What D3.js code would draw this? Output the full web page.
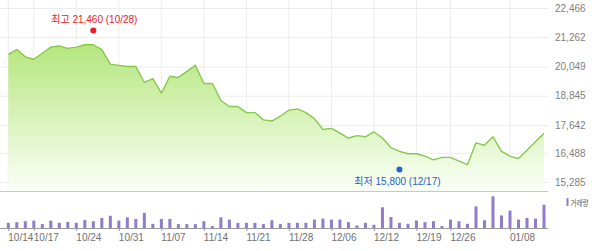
<!DOCTYPE html>
<html>
<head>
<meta charset="utf-8">
<script src="https://cdn.jsdelivr.net/npm/d3@7"></script>
<style>
  body { margin: 0; background: #fff; }
  svg { display: block; font-family: "Liberation Sans", "Noto Sans CJK KR", sans-serif; }
</style>
</head>
<body>
<svg id="chart"></svg>
<script>
// closing prices, one per trading day (10/14 .. 01/14)
const prices = [
  20550, 20750, 20450, 20350, 20600, 20850, 20900, 20800, 20850, 20950,
  20950, 20750, 20150, 20100, 20050, 20050, 19400, 19550, 18950, 19650,
  19600, 19850, 20100, 19350, 19350, 18650, 18400, 18400, 18150, 18150,
  17850, 17800, 18000, 18250, 18300, 18150, 17900, 17450, 17500, 17300,
  17100, 17200, 17150, 17350, 17100, 16700, 16550, 16450, 16450, 16350,
  16200, 16300, 16300, 16150, 16000, 16900, 16800, 17150, 16550, 16350,
  16250, 16600, 16950, 17300
];
// volume (thousand shares)
const volumes = [
  160, 180, 210, 230, 120, 230, 160, 190, 160, 250,
  210, 310, 380, 230, 330, 280, 470, 130, 280, 280,
  120, 120, 120, 210, 60, 330, 260, 160, 160, 160,
  120, 240, 120, 160, 160, 160, 260, 290, 260, 260,
  180, 80, 160, 100, 640, 340, 160, 130, 230, 180,
  210, 60, 260, 210, 130, 670, 240, 980, 390, 540,
  260, 310, 290, 720
];
const tickIdx = [0, 3, 8, 13, 18, 23, 28, 33, 38, 43, 48, 52, 59];
const tickLabels = ["10/14", "10/17", "10/24", "10/31", "11/07", "11/14", "11/21",
  "11/28", "12/06", "12/12", "12/19", "12/26", "01/08"];
const priceTicks = [22466, 21262, 20049, 18845, 17642, 16488, 15285];
const high = { idx: 10, value: 21460, label: "최고 21,460 (10/28)" };
const low = { idx: 46, value: 15800, label: "최저 15,800 (12/17)" };

const width = 600, height = 251;
const plotRight = 548, mainBottom = 191, volBase = 228;

const svg = d3.select("#chart")
    .attr("width", width)
    .attr("height", height)
    .attr("viewBox", [0, 0, width, height]);

const x = d3.scaleLinear([0, prices.length - 1], [8.3, 544]);
const y = d3.scaleLinear([15285, 22466], [182, 8]);
const yVol = d3.scaleLinear([0, 1000], [volBase, volBase - 32.3]);

const defs = svg.append("defs");
const grad = defs.append("linearGradient")
    .attr("id", "areaFill")
    .attr("gradientUnits", "userSpaceOnUse")
    .attr("x1", 0).attr("x2", 0)
    .attr("y1", 40).attr("y2", mainBottom);
grad.append("stop").attr("offset", 0).attr("stop-color", "#b3e67a");
grad.append("stop").attr("offset", 1).attr("stop-color", "#fbfff7");

// horizontal grid + right labels
svg.append("g")
    .attr("transform", `translate(${plotRight},0)`)
    .call(d3.axisRight(y).tickValues(priceTicks).tickFormat(d3.format(",")).tickSize(0).tickPadding(7))
    .call(g => g.select(".domain").remove())
    .call(g => g.selectAll(".tick line").clone()
        .attr("x2", -plotRight)
        .attr("stroke", "#ececec"))
    .call(g => g.selectAll(".tick text")
        .attr("fill", "#808080")
        .attr("font-size", 10));

// vertical grid
svg.append("g")
  .selectAll("line")
  .data(tickIdx)
  .join("line")
    .attr("x1", d => x(d)).attr("x2", d => x(d))
    .attr("y1", 0).attr("y2", mainBottom)
    .attr("stroke", "#ececec");

svg.append("path")
    .datum(prices)
    .attr("fill", "url(#areaFill)")
    .attr("d", d3.area().x((d, i) => x(i)).y0(mainBottom).y1(d => y(d)));

svg.append("path")
    .datum(prices)
    .attr("fill", "none")
    .attr("stroke", "#86c94c")
    .attr("stroke-width", 1.4)
    .attr("stroke-linejoin", "round")
    .attr("d", d3.line().x((d, i) => x(i)).y(d => y(d)));

// panel separator
svg.append("line")
    .attr("x1", 0).attr("x2", plotRight)
    .attr("y1", mainBottom + 0.5).attr("y2", mainBottom + 0.5)
    .attr("stroke", "#c8c8c8");

// high / low markers
svg.append("circle")
    .attr("cx", x(high.idx)).attr("cy", y(high.value) - 2).attr("r", 3)
    .attr("fill", "#ee1c25");
svg.append("text")
    .attr("x", x(high.idx) + 1).attr("y", y(high.value) - 9)
    .attr("text-anchor", "middle")
    .attr("font-size", 10)
    .attr("fill", "#e8202a")
    .text(high.label);

svg.append("circle")
    .attr("cx", x(low.idx)).attr("cy", y(low.value)).attr("r", 3)
    .attr("fill", "#2266cc");
svg.append("text")
    .attr("x", x(low.idx) - 2).attr("y", y(low.value) + 15)
    .attr("text-anchor", "middle")
    .attr("font-size", 10)
    .attr("fill", "#2a62c0")
    .text(low.label);

// volume bars
svg.append("g")
    .attr("fill", "#8f7ccb")
  .selectAll("rect")
  .data(volumes)
  .join("rect")
    .attr("x", (d, i) => x(i) - 1.5)
    .attr("y", d => yVol(d))
    .attr("width", 3)
    .attr("height", d => volBase - yVol(d));

// date axis
svg.append("g")
    .attr("transform", `translate(0,${volBase})`)
    .call(d3.axisBottom(x).tickValues(tickIdx).tickFormat((d, i) => tickLabels[i]).tickSize(3).tickSizeOuter(0))
    .call(g => g.select(".domain").attr("d", `M0,0.5H${plotRight}`).attr("stroke", "#999"))
    .call(g => g.selectAll(".tick line").attr("stroke", "#999"))
    .call(g => g.selectAll(".tick text")
        .attr("text-anchor", "start")
        .attr("dx", -0.5)
        .attr("dy", "0.65em")
        .attr("fill", "#707070")
        .attr("font-size", 10));

// legend
svg.append("rect")
    .attr("x", 566.5).attr("y", 198).attr("width", 2).attr("height", 8)
    .attr("fill", "#8f7ccb");
svg.append("text")
    .attr("x", 570.5).attr("y", 205.5)
    .attr("font-size", 8)
    .attr("textLength", 18)
    .attr("lengthAdjust", "spacingAndGlyphs")
    .attr("fill", "#555")
    .text("거래량");
</script>
</body>
</html>
